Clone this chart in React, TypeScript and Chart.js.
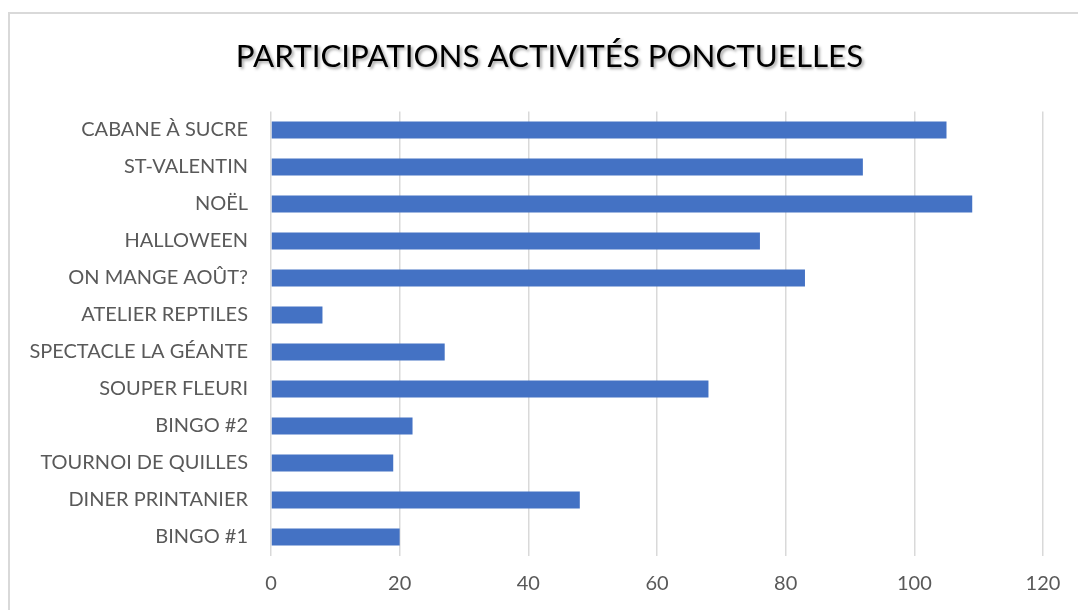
import React, { useEffect, useRef } from "react";
import { Chart, registerables } from "chart.js";

Chart.register(...registerables);

const TITLE = "PARTICIPATIONS ACTIVITÉS PONCTUELLES";
const CATEGORIES = [
  "CABANE À SUCRE",
  "ST-VALENTIN",
  "NOËL",
  "HALLOWEEN",
  "ON MANGE AOÛT?",
  "ATELIER REPTILES",
  "SPECTACLE LA GÉANTE",
  "SOUPER FLEURI",
  "BINGO #2",
  "TOURNOI DE QUILLES",
  "DINER PRINTANIER",
  "BINGO #1",
];
const PARTICIPANTS = [105, 92, 109, 76, 83, 8, 27, 68, 22, 19, 48, 20];
const X_MIN = 0;
const X_MAX = 120;
const X_STEP = 20;

const FONT = "Lato, 'Open Sans', sans-serif";

const titleShadowPlugin = {
  id: "titleShadow",
  beforeDraw(chart: any) {
    const tb = chart.titleBlock;
    if (tb && !tb.__shadowed) {
      const orig = tb.draw.bind(tb);
      tb.draw = (...args: any[]) => {
        const ctx = chart.ctx;
        ctx.save();
        ctx.translate(28, 0);
        ctx.shadowColor = "rgba(0,0,0,0.35)";
        ctx.shadowBlur = 3;
        ctx.shadowOffsetX = 2;
        ctx.shadowOffsetY = 2;
        orig(...args);
        ctx.restore();
      };
      tb.__shadowed = true;
    }
  },
};

export default function App() {
  const canvasRef = useRef<HTMLCanvasElement | null>(null);

  useEffect(() => {
    document.documentElement.style.overflow = "hidden";
    document.body.style.overflow = "hidden";
    const canvas = canvasRef.current;
    if (!canvas) return;
    const chart = new Chart(canvas, {
      type: "bar",
      data: {
        labels: CATEGORIES,
        datasets: [
          {
            label: "Participants",
            data: PARTICIPANTS,
            backgroundColor: "#4472C4",
            borderWidth: 0,
            barPercentage: 0.46,
            categoryPercentage: 1,
          },
        ],
      },
      options: {
        indexAxis: "y",
        animation: false,
        responsive: false,
        maintainAspectRatio: false,
        layout: { padding: { left: 0, right: 35, top: 0, bottom: 0 } },
        plugins: {
          legend: { display: false },
          tooltip: { enabled: false },
          title: {
            display: true,
            text: TITLE,
            color: "#000000",
            font: { family: FONT, size: 31.3, weight: "normal", lineHeight: 1.2 },
            padding: { top: 38.2, bottom: 35.7 },
          },
        },
        scales: {
          x: {
            min: X_MIN,
            max: X_MAX,
            afterFit(scale: any) {
              scale.height = 54.5;
            },
            ticks: {
              stepSize: X_STEP,
              color: "#595959",
              padding: 16,
              font: { family: FONT, size: 20 },
            },
            grid: {
              color: "#d9d9d9",
              lineWidth: 1.5,
              drawTicks: false,
            },
            border: { display: false },
          },
          y: {
            afterFit(scale: any) {
              scale.width = 271;
            },
            ticks: {
              color: "#595959",
              padding: 23,
              font: { family: FONT, size: 20 },
            },
            grid: { display: false, drawTicks: false },
            border: { display: false },
          },
        },
      },
      plugins: [titleShadowPlugin],
    });
    return () => chart.destroy();
  }, []);

  return (
    <div
      style={{
        position: "fixed",
        left: 0,
        top: 0,
        width: 1078,
        height: 610,
        overflow: "hidden",
        background: "#ffffff",
      }}
    >
      <div
        style={{
          position: "absolute",
          left: 8,
          top: 12,
          width: 1200,
          height: 800,
          border: "2px solid #d9d9d9",
          boxSizing: "border-box",
        }}
      />
      <canvas
        ref={canvasRef}
        width={1078}
        height={610}
        style={{ position: "absolute", left: 0, top: 0, width: 1078, height: 610 }}
      />
    </div>
  );
}
